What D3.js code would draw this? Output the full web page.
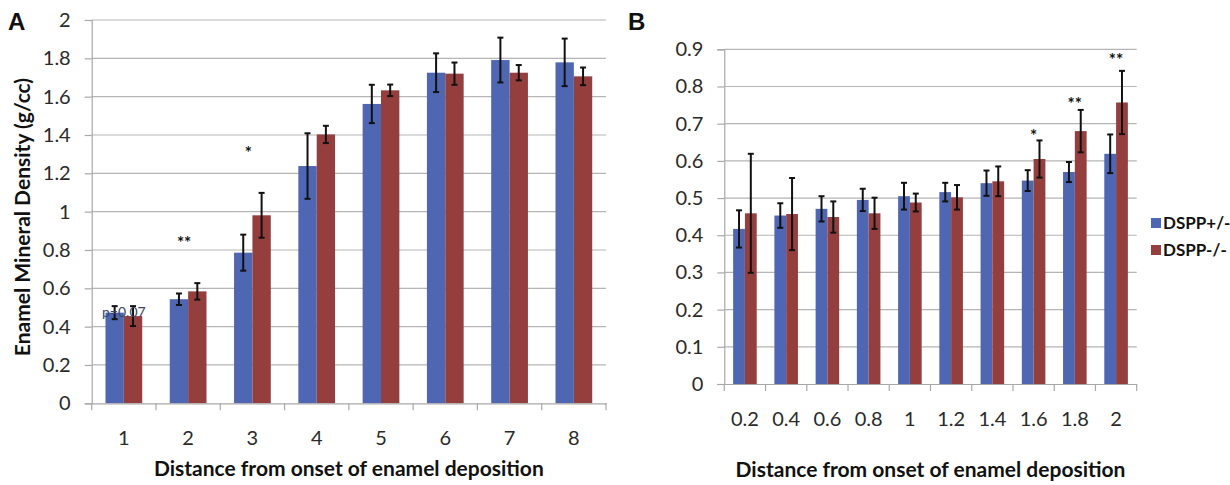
<!DOCTYPE html>
<html>
<head>
<meta charset="utf-8">
<script src="https://cdn.jsdelivr.net/npm/d3@7"></script>
<style>
  body { margin: 0; background: #fff; }
  svg { font-family: Lato, "Open Sans", sans-serif; }
</style>
</head>
<body>
<svg id="chart" width="1230" height="485"></svg>
<script>
// panel A data
const catsA = ["1", "2", "3", "4", "5", "6", "7", "8"];
const hetA = [0.473, 0.543, 0.786, 1.238, 1.562, 1.725, 1.791, 1.779];
const hetErrA = [0.034, 0.030, 0.094, 0.171, 0.100, 0.101, 0.117, 0.124];
const koA = [0.455, 0.584, 0.981, 1.403, 1.633, 1.720, 1.725, 1.706];
const koErrA = [0.052, 0.043, 0.117, 0.045, 0.030, 0.058, 0.040, 0.046];
const ticksA = [0, 0.2, 0.4, 0.6, 0.8, 1, 1.2, 1.4, 1.6, 1.8, 2];
const notesA = [
  { cat: "1", y: 0.45, text: "p=0.07", kind: "p" },
  { cat: "2", y: 0.85, text: "**", kind: "star" },
  { cat: "3", y: 1.32, text: "*", kind: "star" }
];

// panel B data
const catsB = ["0.2", "0.4", "0.6", "0.8", "1", "1.2", "1.4", "1.6", "1.8", "2"];
const hetB = [0.417, 0.453, 0.471, 0.495, 0.505, 0.516, 0.540, 0.547, 0.570, 0.619];
const hetErrB = [0.050, 0.033, 0.034, 0.030, 0.036, 0.025, 0.034, 0.028, 0.027, 0.052];
const koB = [0.459, 0.457, 0.449, 0.459, 0.488, 0.502, 0.545, 0.605, 0.680, 0.757];
const koErrB = [0.160, 0.097, 0.042, 0.042, 0.024, 0.033, 0.040, 0.050, 0.057, 0.085];
const ticksB = [0, 0.1, 0.2, 0.3, 0.4, 0.5, 0.6, 0.7, 0.8, 0.9];
const notesB = [
  { cat: "1.6", y: 0.675, text: "*", kind: "star" },
  { cat: "1.8", y: 0.762, text: "**", kind: "star" },
  { cat: "2", y: 0.878, text: "**", kind: "star" }
];

const seriesNames = ["DSPP+/-", "DSPP-/-"];
const colors = { "DSPP+/-": "#4f67b3", "DSPP-/-": "#943f3e" };

const svg = d3.select("#chart");

function drawPanel(opt) {
  const g = svg.append("g");
  const x = d3.scaleBand().domain(opt.cats).range([opt.left, opt.right]).padding(0);
  const sub = d3.scaleBand().domain(seriesNames).range([0, x.bandwidth()]).paddingInner(0).paddingOuter(0.75);
  const y = d3.scaleLinear().domain([0, opt.max]).range([opt.bottom, opt.top]);

  // gridlines
  g.selectAll(".grid").data(opt.ticks.slice(1)).join("line")
    .attr("x1", opt.left).attr("x2", opt.right)
    .attr("y1", d => y(d)).attr("y2", d => y(d))
    .attr("stroke", "#b5b5b5").attr("stroke-width", 1.2);

  const rows = opt.cats.map((c, i) => ({
    cat: c,
    vals: [
      { s: seriesNames[0], v: opt.het[i], e: opt.hetErr[i] },
      { s: seriesNames[1], v: opt.ko[i], e: opt.koErr[i] }
    ]
  }));

  const grp = g.selectAll(".grp").data(rows).join("g")
    .attr("transform", d => `translate(${x(d.cat)},0)`);
  grp.selectAll("rect").data(d => d.vals).join("rect")
    .attr("x", d => sub(d.s)).attr("width", sub.bandwidth())
    .attr("y", d => y(d.v)).attr("height", d => y(0) - y(d.v))
    .attr("fill", d => colors[d.s]);

  // error bars
  const eb = grp.selectAll(".err").data(d => d.vals).join("g")
    .attr("transform", d => `translate(${sub(d.s) + sub.bandwidth() / 2},0)`);
  eb.append("line").attr("y1", d => y(d.v - d.e)).attr("y2", d => y(d.v + d.e))
    .attr("stroke", "#111").attr("stroke-width", 2);
  eb.selectAll(".cap").data(d => [d.v - d.e, d.v + d.e]).join("line")
    .attr("x1", -3).attr("x2", 3).attr("y1", d => y(d)).attr("y2", d => y(d))
    .attr("stroke", "#111").attr("stroke-width", 2);

  // y axis
  const ya = g.append("g").attr("transform", `translate(${opt.left},0)`)
    .call(d3.axisLeft(y).tickValues(opt.ticks).tickSize(7).tickPadding(14)
      .tickFormat(d => d3.format("")(+d.toFixed(1))));
  ya.select(".domain").attr("stroke", "#a8a8a8").attr("stroke-width", 1.2);
  ya.selectAll(".tick line").attr("stroke", "#a8a8a8").attr("stroke-width", 1.2);
  ya.selectAll("text").attr("font-size", 20).attr("fill", "#2a2a2a").attr("font-family", "Lato");

  // x axis
  const xa = g.append("g").attr("transform", `translate(0,${opt.bottom})`)
    .call(d3.axisBottom(x).tickSize(0).tickPadding(28));
  xa.select(".domain").attr("stroke", "#a8a8a8").attr("stroke-width", 1.2);
  xa.selectAll("text").attr("font-size", 20).attr("fill", "#2a2a2a").attr("font-family", "Lato");
  xa.selectAll(".sep").data(opt.cats.concat(["end"])).join("line")
    .attr("x1", (d, i) => opt.left + i * x.step()).attr("x2", (d, i) => opt.left + i * x.step())
    .attr("y1", 0).attr("y2", 7)
    .attr("stroke", "#a8a8a8").attr("stroke-width", 1.2);

  // annotations
  g.selectAll(".note").data(opt.notes).join("text")
    .attr("x", d => x(d.cat) + x.bandwidth() / 2 + (d.kind === "star" ? opt.starShift : 0))
    .attr("y", d => y(d.y) + (d.kind === "star" ? 9 : 0))
    .attr("text-anchor", "middle")
    .attr("font-size", d => d.kind === "star" ? 17 : 14)
    .attr("font-weight", d => d.kind === "star" ? "bold" : "normal")
    .attr("fill", d => d.kind === "star" ? "#111" : "#3d4466")
    .text(d => d.text);

  // x title
  g.append("text").attr("x", (opt.left + opt.right) / 2).attr("y", opt.xTitleY)
    .attr("text-anchor", "middle").attr("font-size", 21).attr("font-weight", "bold")
    .attr("fill", "#111").text("Distance from onset of enamel deposition");

  // panel letter
  g.append("text").attr("x", opt.letterX).attr("y", 30)
    .attr("font-family", "Liberation Sans, Arial, sans-serif")
    .attr("font-size", 24).attr("font-weight", "bold").attr("fill", "#111").text(opt.letter);
  return g;
}

drawPanel({
  cats: catsA, het: hetA, hetErr: hetErrA, ko: koA, koErr: koErrA, ticks: ticksA, notes: notesA,
  max: 2, left: 91.7, right: 606, top: 20, bottom: 403.3, xTitleY: 476, letter: "A", letterX: 8, starShift: -4
});

drawPanel({
  cats: catsB, het: hetB, hetErr: hetErrB, ko: koB, koErr: koErrB, ticks: ticksB, notes: notesB,
  max: 0.9, left: 724.3, right: 1136.7, top: 49.3, bottom: 384, xTitleY: 477, letter: "B", letterX: 628, starShift: 0
});

// y title panel A
svg.append("text").attr("transform", "translate(30,217) rotate(-90)")
  .attr("text-anchor", "middle").attr("font-size", 21).attr("font-weight", "bold")
  .attr("fill", "#111").text("Enamel Mineral Density (g/cc)");

// legend
const legend = svg.append("g").attr("transform", "translate(1151,223)");
const li = legend.selectAll("g").data(seriesNames).join("g")
  .attr("transform", (d, i) => `translate(0,${i * 27})`);
li.append("rect").attr("x", 0).attr("y", -5).attr("width", 10).attr("height", 10)
  .attr("fill", d => colors[d]);
li.append("text").attr("x", 12).attr("y", 6).attr("font-size", 17).attr("font-weight", "bold")
  .attr("fill", "#111").text(d => d);
</script>
</body>
</html>
